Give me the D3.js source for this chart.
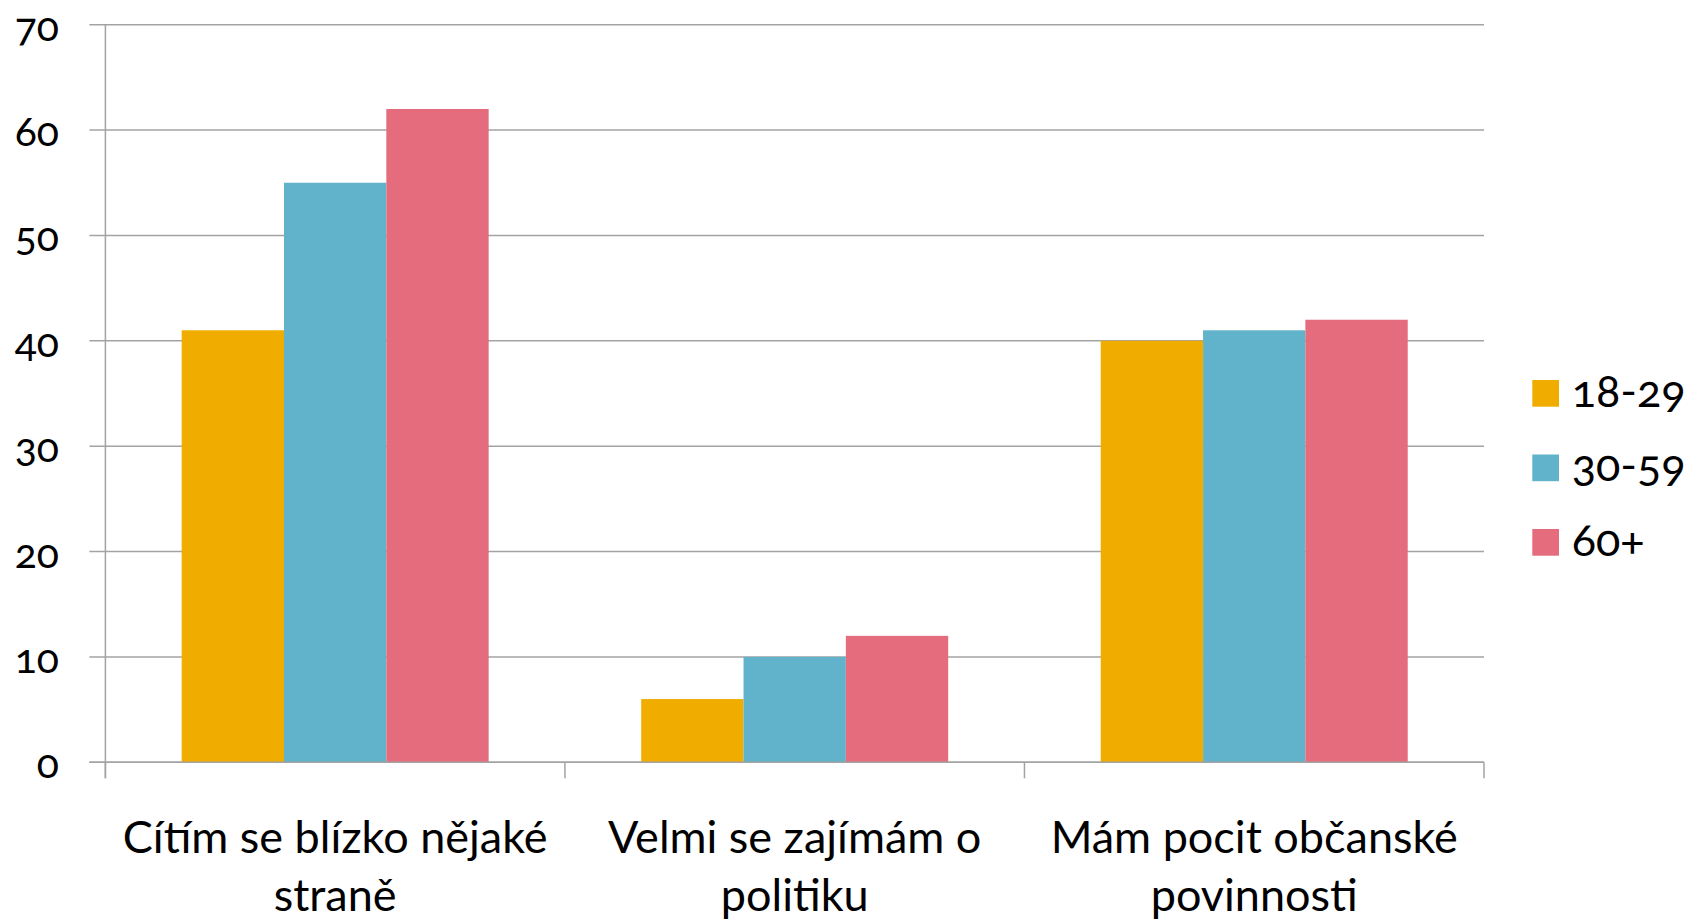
<!DOCTYPE html>
<html>
<head>
<meta charset="utf-8">
<script src="https://cdn.jsdelivr.net/npm/d3@7"></script>
<style>
  html, body { margin: 0; padding: 0; background: #fff; }
  svg { display: block; }
  text { font-family: Lato, "Open Sans", sans-serif; fill: #000; }
  .num { font-variant-numeric: oldstyle-nums; font-feature-settings: "onum" 1; }
</style>
</head>
<body>
<svg id="chart" width="1687" height="920"></svg>
<script>
const categories = [
  ["Cítím se blízko nějaké", "straně"],
  ["Velmi se zajímám o", "politiku"],
  ["Mám pocit občanské", "povinnosti"]
];
const seriesNames = ["18-29", "30-59", "60+"];
const seriesColors = ["#F0AD00", "#61B3CB", "#E56C7D"];
const values1829 = [41, 6, 40];
const values3059 = [55, 10, 41];
const values60plus = [62, 12, 42];
const yTicks = [0, 10, 20, 30, 40, 50, 60, 70];

const seriesValues = [values1829, values3059, values60plus];
const catKeys = categories.map(c => c.join(" "));

const svg = d3.select("#chart");
const plotLeft = 105.4, plotRight = 1484, plotTop = 24.7, plotBottom = 762.3;
const gridColor = "#A3A3A3";

const y = d3.scaleLinear().domain([0, 70]).range([plotBottom, plotTop]);
const x0 = d3.scaleBand().domain(catKeys).range([plotLeft, plotRight])
  .paddingInner(0.332).paddingOuter(0.166);
const x1 = d3.scaleBand().domain(seriesNames).range([0, x0.bandwidth()]).padding(0);

// gridlines
svg.append("g").selectAll("line").data(yTicks).join("line")
  .attr("x1", plotLeft - 16).attr("x2", plotRight)
  .attr("y1", d => y(d)).attr("y2", d => y(d))
  .attr("stroke", gridColor).attr("stroke-width", 1.5);

// bars
const groups = svg.append("g").selectAll("g").data(catKeys).join("g")
  .attr("transform", d => `translate(${x0(d)},0)`);
groups.selectAll("rect")
  .data((d, i) => seriesNames.map((s, j) => ({ s, j, v: seriesValues[j][i] })))
  .join("rect")
  .attr("x", d => x1(d.s))
  .attr("width", x1.bandwidth())
  .attr("y", d => y(d.v))
  .attr("height", d => y(0) - y(d.v))
  .attr("fill", d => seriesColors[d.j]);

// y axis line
svg.append("line")
  .attr("x1", plotLeft).attr("x2", plotLeft)
  .attr("y1", plotTop).attr("y2", plotBottom + 16)
  .attr("stroke", gridColor).attr("stroke-width", 1.5);
// baseline redraw
svg.append("line")
  .attr("x1", plotLeft - 16).attr("x2", plotRight)
  .attr("y1", plotBottom).attr("y2", plotBottom)
  .attr("stroke", gridColor).attr("stroke-width", 1.5);

// x category boundary ticks
const step = x0.step();
const boundaries = d3.range(catKeys.length + 1).map(i => plotLeft + i * step);
svg.append("g").selectAll("line").data(boundaries).join("line")
  .attr("x1", d => d).attr("x2", d => d)
  .attr("y1", plotBottom).attr("y2", plotBottom + 16)
  .attr("stroke", gridColor).attr("stroke-width", 1.5);

// y labels
svg.append("g").selectAll("text").data(yTicks).join("text")
  .attr("class", "num")
  .attr("x", 59).attr("y", d => y(d) + 16)
  .attr("text-anchor", "end")
  .attr("font-size", 41)
  .text(d => d);

// x labels
const xl = svg.append("g").selectAll("text").data(categories).join("text")
  .attr("x", (d, i) => x0(catKeys[i]) + x0.bandwidth() / 2)
  .attr("y", 853)
  .attr("text-anchor", "middle")
  .attr("font-size", 45);
xl.selectAll("tspan").data(d => d).join("tspan")
  .attr("x", function() { return this.parentNode.getAttribute("x"); })
  .attr("dy", (d, i) => i === 0 ? 0 : 58)
  .text(d => d);

// legend
const lg = svg.append("g").selectAll("g").data(seriesNames).join("g")
  .attr("transform", (d, i) => `translate(1532.3, ${380 + i * 74.5})`);
lg.append("rect").attr("width", 26.7).attr("height", 26.7)
  .attr("fill", (d, i) => seriesColors[i]);
lg.append("text").attr("class", "num")
  .attr("x", 39.4).attr("y", 26.7)
  .attr("font-size", 45)
  .text(d => d);
</script>
</body>
</html>
